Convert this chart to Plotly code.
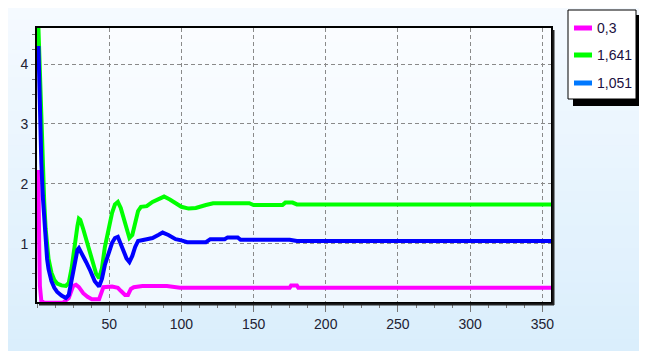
import plotly.graph_objects as go

# ---------------- data ----------------
series_names = ["0,3", "1,641", "1,051"]

magenta_x = [0, 1, 1.5, 2, 3, 5, 18, 22, 25, 27, 29, 32, 35, 38, 43, 45, 46, 52, 56, 58, 61, 63, 65, 67, 73, 90, 99, 175, 176, 180, 181, 356]
magenta_y = [2.2, 2.2, 1.0, 0.3, 0.05, 0.02, 0.02, 0.1, 0.3, 0.32, 0.28, 0.18, 0.12, 0.08, 0.08, 0.2, 0.28, 0.29, 0.27, 0.22, 0.15, 0.15, 0.25, 0.28, 0.3, 0.3, 0.27, 0.27, 0.31, 0.31, 0.27, 0.27]

green_x = [1, 2, 3, 4, 5, 6, 7, 8, 10, 12, 14, 17, 20, 22, 24, 26, 28, 29, 30, 32, 35, 38, 41, 43, 45, 47, 50, 52, 54, 56, 58, 60, 62, 64, 66, 68, 70, 72, 76, 80, 84, 88, 92, 96, 100, 105, 110, 117, 122, 147, 150, 170, 172, 177, 180, 200, 356]
green_y = [4.6, 3.8, 2.9, 2.2, 1.7, 1.25, 0.95, 0.75, 0.52, 0.4, 0.34, 0.31, 0.3, 0.35, 0.6, 1.0, 1.3, 1.42, 1.4, 1.25, 1.0, 0.75, 0.5, 0.43, 0.6, 0.95, 1.3, 1.52, 1.66, 1.7, 1.6, 1.42, 1.22, 1.1, 1.15, 1.38, 1.55, 1.62, 1.63, 1.7, 1.75, 1.79, 1.74, 1.67, 1.62, 1.59, 1.6, 1.65, 1.68, 1.68, 1.65, 1.65, 1.69, 1.69, 1.66, 1.66, 1.66]

blue_x = [1, 2, 3, 4, 5, 6, 7, 8, 10, 12, 14, 17, 20, 22, 24, 26, 28, 29, 31, 34, 37, 40, 43, 45, 47, 50, 52, 54, 56, 58, 60, 62, 64, 66, 68, 70, 76, 80, 84, 87, 91, 96, 100, 104, 117, 120, 130, 132, 139, 141, 175, 180, 356]
blue_y = [4.3, 3.0, 2.35, 1.8, 1.35, 1.0, 0.75, 0.58, 0.38, 0.27, 0.2, 0.14, 0.1, 0.15, 0.4, 0.7, 0.9, 0.93, 0.85, 0.7, 0.55, 0.38, 0.29, 0.42, 0.65, 0.9, 1.02, 1.1, 1.12, 1.0, 0.87, 0.76, 0.7, 0.8, 0.95, 1.05, 1.08, 1.1, 1.15, 1.19, 1.15, 1.08, 1.06, 1.03, 1.03, 1.08, 1.08, 1.11, 1.11, 1.07, 1.07, 1.05, 1.05]

x_ticks = [50, 100, 150, 200, 250, 300, 350]
y_ticks = [1, 2, 3, 4]

line_colors = ["#ff00ff", "#00ff00", "#0000ff"]
legend_colors = ["#ff00ff", "#00ff00", "#0078ff"]

# ---------------- geometry ----------------
OFF = 8  # browser body margin
WIDTH, HEIGHT = 647 - OFF, 351 - OFF
# plot area in page pixels
L, R, T, B = 37, 551, 28, 302
PW, PH = R - L, B - T


def xp(px):
    return (px - L) / PW


def yp(py):
    return (B - py) / PH


FONT = "Liberation Sans, Arial, sans-serif"

fig = go.Figure()
xs = [magenta_x, green_x, blue_x]
ys = [magenta_y, green_y, blue_y]
for name, x, y, c in zip(series_names, xs, ys, line_colors):
    fig.add_trace(go.Scatter(x=x, y=y, mode="lines", name=name,
                             line=dict(color=c, width=4), showlegend=False))

shapes = []
# background gradient (stripes), page pixels
top_c = (245, 250, 255)
bot_c = (218, 238, 252)
n = 30
y0p, y1p = OFF, 351
for i in range(n):
    a = y0p + (y1p - y0p) * i / n
    b = y0p + (y1p - y0p) * (i + 1) / n
    t = (i + 0.5) / n
    col = tuple(round(top_c[k] + (bot_c[k] - top_c[k]) * t) for k in range(3))
    shapes.append(dict(type="rect", xref="paper", yref="paper", layer="below",
                       x0=xp(OFF - 2), x1=xp(660), y0=yp(b + 0.6), y1=yp(a - 2 if i == 0 else a),
                       fillcolor="rgb(%d,%d,%d)" % col, line=dict(width=0)))
# lighter plot area
shapes.append(dict(type="rect", xref="paper", yref="paper", layer="below",
                   x0=0, x1=1, y0=0, y1=1,
                   fillcolor="rgba(255,255,255,0.55)", line=dict(width=0)))
# axis frame shadow (bottom/right)
shapes.append(dict(type="line", xref="paper", yref="paper", layer="above",
                   x0=xp(L + 2), x1=xp(R + 3), y0=yp(B + 2.5), y1=yp(B + 2.5),
                   line=dict(color="#222222", width=2)))
shapes.append(dict(type="line", xref="paper", yref="paper", layer="above",
                   x0=xp(R + 2.5), x1=xp(R + 2.5), y0=yp(T + 2), y1=yp(B + 3),
                   line=dict(color="#222222", width=2)))

# legend box with shadow
lx0, lx1, ly0, ly1 = 568, 636, 10, 99
shapes.append(dict(type="rect", xref="paper", yref="paper", layer="above",
                   x0=xp(lx0 + 5), x1=xp(lx1 + 4), y0=yp(ly1 + 7), y1=yp(ly0 + 5),
                   fillcolor="#000000", line=dict(width=0)))
shapes.append(dict(type="rect", xref="paper", yref="paper", layer="above",
                   x0=xp(lx0), x1=xp(lx1), y0=yp(ly1), y1=yp(ly0),
                   fillcolor="#ffffff", line=dict(color="#000000", width=1)))
annotations = []
entry_y = [28, 55, 83]
for name, c, ey in zip(series_names, legend_colors, entry_y):
    shapes.append(dict(type="line", xref="paper", yref="paper", layer="above",
                       x0=xp(574), x1=xp(592), y0=yp(ey), y1=yp(ey),
                       line=dict(color=c, width=5)))
    annotations.append(dict(xref="paper", yref="paper", x=xp(595), y=yp(ey),
                            xanchor="left", yanchor="middle", text=name, showarrow=False,
                            font=dict(family=FONT, size=14, color="#1c1040")))

fig.update_layout(
    width=WIDTH, height=HEIGHT,
    margin=dict(l=L - OFF, r=647 - R, t=T - OFF, b=351 - B),
    paper_bgcolor="rgb(232,244,253)",
    plot_bgcolor="rgba(0,0,0,0)",
    showlegend=False,
    shapes=shapes,
    annotations=annotations,
    font=dict(family=FONT, size=14, color="#222233"),
)
fig.update_xaxes(
    range=[0, 356], tickvals=x_ticks, ticktext=[str(v) for v in x_ticks],
    showgrid=True, gridcolor="#8a8a8a", gridwidth=1, griddash="4px,3px",
    showline=True, linecolor="#000000", linewidth=2, mirror=True,
    ticks="outside", ticklen=8, tickcolor="#777777", tickwidth=1,
    minor=dict(dtick=12.5, tick0=0, ticks="outside", ticklen=4, tickcolor="#777777", showgrid=False),
    zeroline=False, fixedrange=True,
)
fig.update_yaxes(
    range=[0.033, 4.6], tickvals=y_ticks, ticktext=[str(v) for v in y_ticks],
    showgrid=True, gridcolor="#8a8a8a", gridwidth=1, griddash="4px,3px",
    showline=True, linecolor="#000000", linewidth=2, mirror=True,
    ticks="outside", ticklen=4, tickcolor="#777777", tickwidth=1,
    minor=dict(dtick=0.25, tick0=0, ticks="outside", ticklen=3, tickcolor="#777777", showgrid=False),
    zeroline=False, fixedrange=True,
)

fig.write_html("out.html")
